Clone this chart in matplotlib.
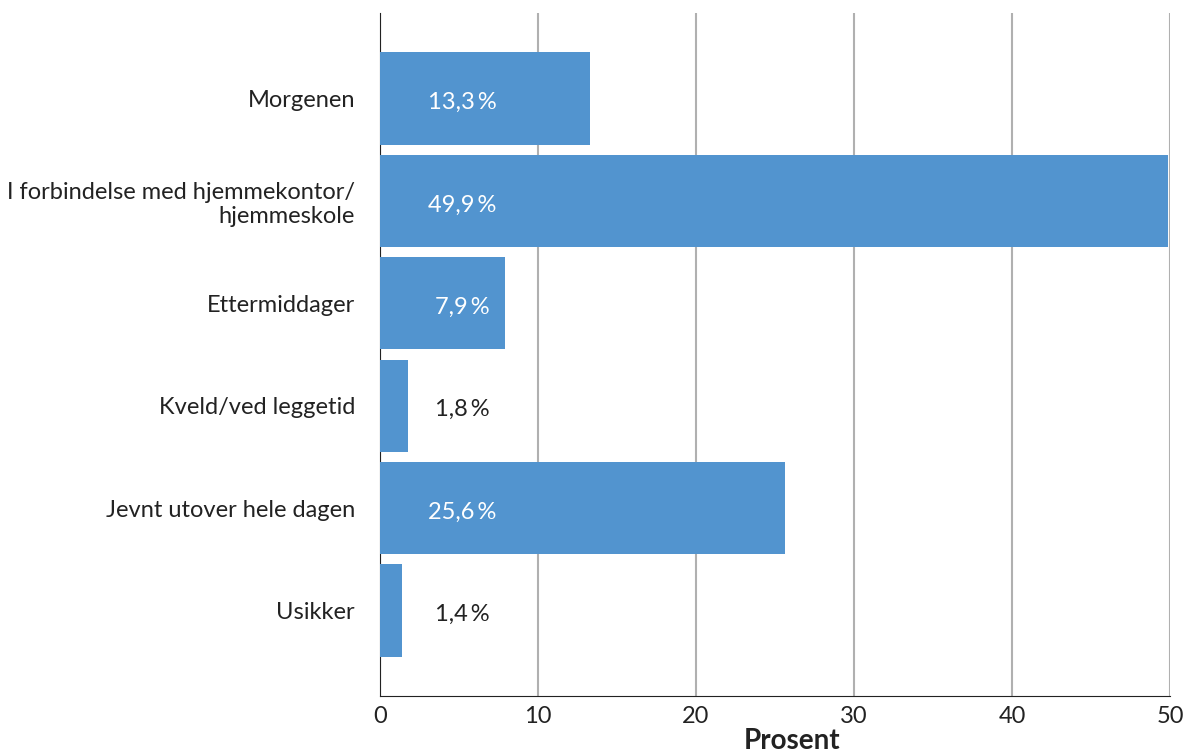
import matplotlib.pyplot as plt
from matplotlib.transforms import ScaledTranslation

plt.rcParams['font.family'] = ['Lato', 'DejaVu Sans']

categories = ['Morgenen', 'I forbindelse med hjemmekontor/\nhjemmeskole', 'Ettermiddager',
              'Kveld/ved leggetid', 'Jevnt utover hele dagen', 'Usikker']
values = [13.3, 49.9, 7.9, 1.8, 25.6, 1.4]
ticks = [0, 10, 20, 30, 40, 50]

fig = plt.figure(figsize=(12.03, 7.56), dpi=100)
ax = fig.add_axes([0.3159, 0.0794, 0.6567, 0.9034])

ypos = list(range(len(categories)))
ax.barh(ypos, values, height=0.9, color='#5294cf', zorder=3)

lab_x = 5.2
for y, v in zip(ypos, values):
    txt = '{:.1f}\u2009%'.format(v).replace('.', ',')
    col = 'white' if v > 7 else '#222222'
    ax.text(lab_x, y + 0.04, txt, ha='center', va='center', color=col, fontsize=17, zorder=4)

ax.set_yticks(ypos)
ax.set_yticklabels(categories, fontsize=17, color='#222222', ha='right', multialignment='right')
shift = ScaledTranslation(0, -0.03, fig.dpi_scale_trans)
for lab in ax.get_yticklabels():
    lab.set_transform(lab.get_transform() + shift)
ax.set_ylim(5.834, -0.834)
ax.set_xlim(0, 50)
ax.set_xticks(ticks)
ax.set_xticklabels([str(t) for t in ticks], fontsize=17, color='#222222')
ax.tick_params(axis='both', length=0)
ax.tick_params(axis='y', pad=18)
ax.tick_params(axis='x', pad=7)

ax.grid(axis='x', color='#b0b0b0', linewidth=1.5, zorder=0)
ax.spines['top'].set_visible(False)
ax.spines['right'].set_visible(False)
ax.spines['left'].set_color('#222222')
ax.spines['bottom'].set_color('#222222')

ax.set_xlabel('Prosent', fontsize=20, fontweight='bold', color='#222222')
ax.xaxis.set_label_coords(0.5215, -0.047)

fig.savefig('out.png', dpi=100)
